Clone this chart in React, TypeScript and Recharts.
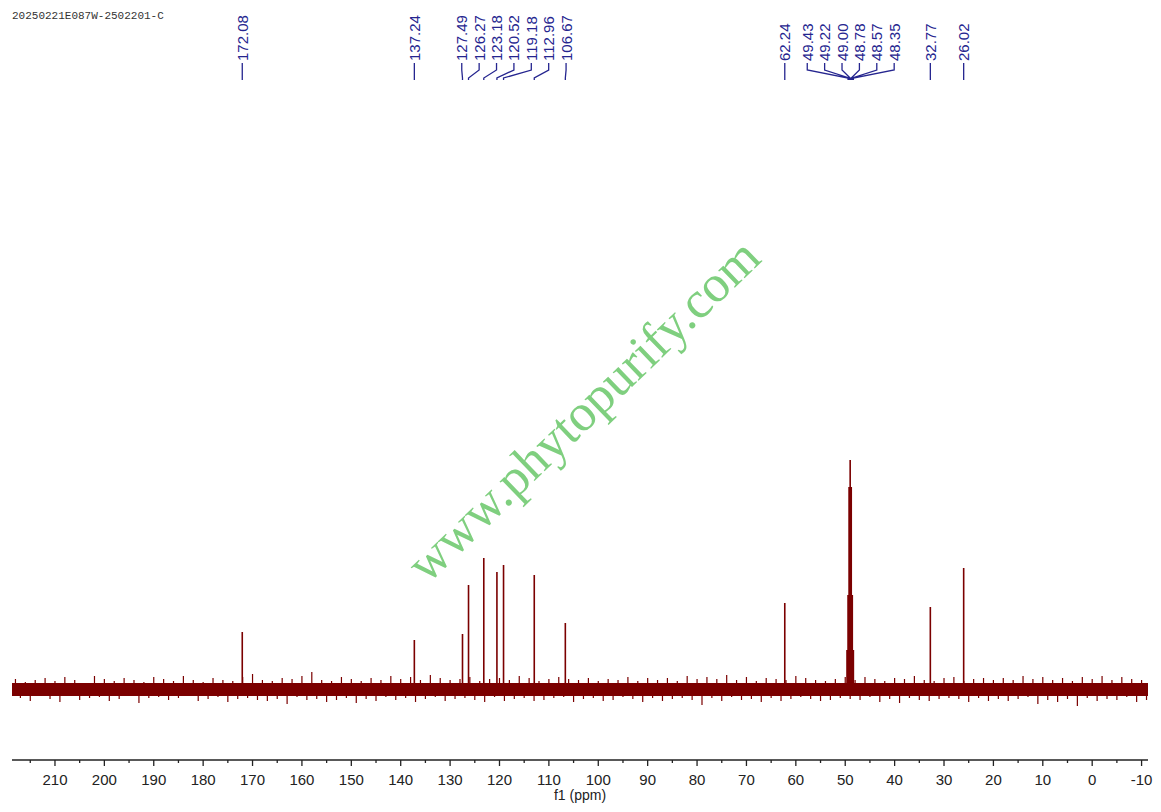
import React from "react";
import { ComposedChart, Line, Scatter, XAxis, YAxis, ReferenceArea } from "recharts";

// sample id printed top-left
const sampleId = "20250221E087W-2502201-C";

// picked peaks (ppm) and their heights above the baseline
const peakPpm = [172.08, 137.24, 127.49, 126.27, 123.18, 120.52, 119.18, 112.96, 106.67, 62.24, 49.64, 49.43, 49.22, 49.0, 48.78, 48.57, 48.35, 32.77, 26.02];
const peakHeight = [57, 49, 55, 104, 131, 117, 124, 114, 66, 86, 39, 94, 202, 229, 202, 94, 39, 82, 121];

// peak labels, grouped the way they fan out at the top
const labelGroups = [
  [172.08],
  [137.24],
  [127.49, 126.27, 123.18, 120.52, 119.18, 112.96, 106.67],
  [62.24],
  [49.43, 49.22, 49.0, 48.78, 48.57, 48.35],
  [32.77],
  [26.02],
];

// x axis ticks (ppm), labelled every 10
const axisTicks = [215, 210, 205, 200, 195, 190, 185, 180, 175, 170, 165, 160, 155, 150, 145, 140, 135, 130, 125, 120, 115, 110, 105, 100, 95, 90, 85, 80, 75, 70, 65, 60, 55, 50, 45, 40, 35, 30, 25, 20, 15, 10, 5, 0, -5, -10];

// baseline noise, rough, one value per ppm from 218 down to -11
const noiseStart = 218;
const noise = [
  10, -9, 7, -12, 9, -6, 11, -10, 8, -13,
  12, -7, 9, -11, 6, -9, 13, -8, 10, -12,
  8, -10, 11, -7, 9, -14, 7, -9, 12, -8,
  10, -11, 8, -9, 13, -7, 9, -12, 7, -10,
  11, -8, 9, -13, 8, -10, 12, -9, 15, -11,
  9, -12, 8, -10, 11, -15, 10, -8, 13, -11,
  17, -10, 9, -13, 8, -11, 12, -9, 10, -14,
  8, -10, 11, -12, 9, -8, 13, -11, 10, -9,
  12, -13, 9, -10, 14, -8, 11, -12, 9, -10,
  10, -9, 12, -11, 8, -13, 10, -8, 11, -12,
  9, -10, 13, -9, 11, -12, 8, -11, 10, -9,
  12, -8, 10, -13, 9, -10, 11, -9, 8, -12,
  10, -11, 9, -8, 12, -10, 8, -13, 11, -9,
  9, -12, 11, -10, 8, -9, 13, -11, 10, -16,
  12, -9, 10, -12, 14, -8, 9, -11, 12, -10,
  8, -13, 11, -9, 10, -12, 9, -10, 13, -8,
  11, -10, 9, -12, 8, -11, 10, -9, 12, -10,
  9, -11, 12, -8, 10, -13, 8, -10, 11, -14,
  10, -9, 13, -11, 9, -12, 8, -10, 11, -9,
  12, -10, 8, -13, 10, -9, 11, -12, 9, -10,
  11, -12, 9, -10, 13, -8, 10, -15, 12, -11,
  9, -13, 11, -10, 8, -17, 12, -9, 10, -12,
  13, -10, 9, -11, 12, -8, 10, -13, 9, -11,
];

const RED = "#7b0000";
const NAVY = "#25258f";
const SANS = "'Liberation Sans', Arial, sans-serif";

const LABEL_GAP = 3.52; // ppm between neighbouring labels
// y levels (intensity units) used for the label fan at the top
const TEXT_Y = 628;
const FAN_TOP = 626;
const FAN_BEND = 619;
const FAN_FOOT = 611;
const FAN_END = 609;

const spectrum = peakPpm.flatMap((p, i) => [
  { x: p, y: 0 },
  { x: p, y: peakHeight[i] },
  { x: p, y: 0 },
]);

// noise drawn as thin vertical hairs off the baseline
const noiseData = noise.flatMap((v, i) => [
  { x: noiseStart - i, y: 0 },
  { x: noiseStart - i, y: v },
  { x: noiseStart - i, y: 0 },
]);

// spread each group evenly, centred between its outer peaks
const labels = labelGroups.flatMap((g) => {
  const n = g.length;
  const hi = g[0];
  const lo = g[n - 1];
  const step = n > 1 ? Math.max(LABEL_GAP, (hi - lo) / (n - 1)) : 0;
  const top = (hi + lo) / 2 + (step * (n - 1)) / 2;
  return g.map((p, k) => ({ peak: p, slot: top - k * step }));
});

const labelPoints = labels.map((l) => ({ x: l.slot, y: TEXT_Y, label: l.peak.toFixed(2) }));

const fanData = labels.flatMap((l) => [
  { x: l.slot, y: FAN_TOP },
  { x: l.slot, y: FAN_BEND },
  { x: l.peak, y: FAN_FOOT },
  { x: l.peak, y: FAN_END },
  { x: l.peak, y: null },
]);

const PeakLabel = (props: any) => {
  const { cx, cy, payload } = props;
  return (
    <text
      x={cx}
      y={cy}
      transform={`rotate(-90 ${cx} ${cy})`}
      fill={NAVY}
      fontSize={15}
      fontFamily={SANS}
      dominantBaseline="central"
    >
      {payload.label}
    </text>
  );
};

const AxisTick = (props: any) => {
  const { x, y, payload } = props;
  const v = payload.value;
  const major = v % 10 === 0;
  return (
    <g>
      <line x1={x} x2={x} y1={y} y2={y + (major ? 6 : 3)} stroke="#222" strokeWidth={1.3} />
      {major && (
        <text x={x} y={y + 25} textAnchor="middle" fill="#222" fontSize={15} fontFamily={SANS}>
          {v}
        </text>
      )}
    </g>
  );
};

export default function App() {
  return (
    <div style={{ position: "absolute", left: 0, top: 0, width: 1161, height: 812, background: "#fff" }}>
      <ComposedChart width={1161} height={812} margin={{ top: 10, right: 13, bottom: 12, left: 12 }}>
        <XAxis
          type="number"
          dataKey="x"
          domain={[-11.3, 218.7]}
          reversed
          allowDataOverflow
          ticks={axisTicks}
          interval={0}
          tickSize={0}
          tickMargin={0}
          tickLine={false}
          tick={<AxisTick />}
          height={40}
          axisLine={{ stroke: "#222", strokeWidth: 1.5 }}
          label={{ value: "f1 (ppm)", position: "insideBottom", offset: 0, fill: "#222", fontSize: 14, fontFamily: SANS }}
        />
        <YAxis hide type="number" domain={[-71, 679]} allowDataOverflow />
        <ReferenceArea y1={-7} y2={6} fill={RED} fillOpacity={1} stroke="none" />
        <Line data={noiseData} dataKey="y" stroke={RED} strokeWidth={1.2} dot={false} isAnimationActive={false} />
        <Line data={spectrum} dataKey="y" stroke={RED} strokeWidth={1.6} dot={false} isAnimationActive={false} />
        <Line data={fanData} dataKey="y" stroke={NAVY} strokeWidth={1.3} dot={false} isAnimationActive={false} />
        <Scatter data={labelPoints} dataKey="y" shape={<PeakLabel />} isAnimationActive={false} />
      </ComposedChart>
      <div
        style={{
          position: "absolute",
          left: 12,
          top: 10,
          fontFamily: "'Liberation Mono', monospace",
          fontSize: 11,
          color: "#333",
        }}
      >
        {sampleId}
      </div>
      <div
        style={{
          position: "absolute",
          left: 583,
          top: 410,
          transform: "translate(-50%, -50%) rotate(-44deg)",
          fontFamily: "'Liberation Serif', 'Times New Roman', serif",
          fontSize: 52,
          color: "#7fcf7f",
          whiteSpace: "nowrap",
          pointerEvents: "none",
        }}
      >
        www.phytopurify.com
      </div>
    </div>
  );
}
